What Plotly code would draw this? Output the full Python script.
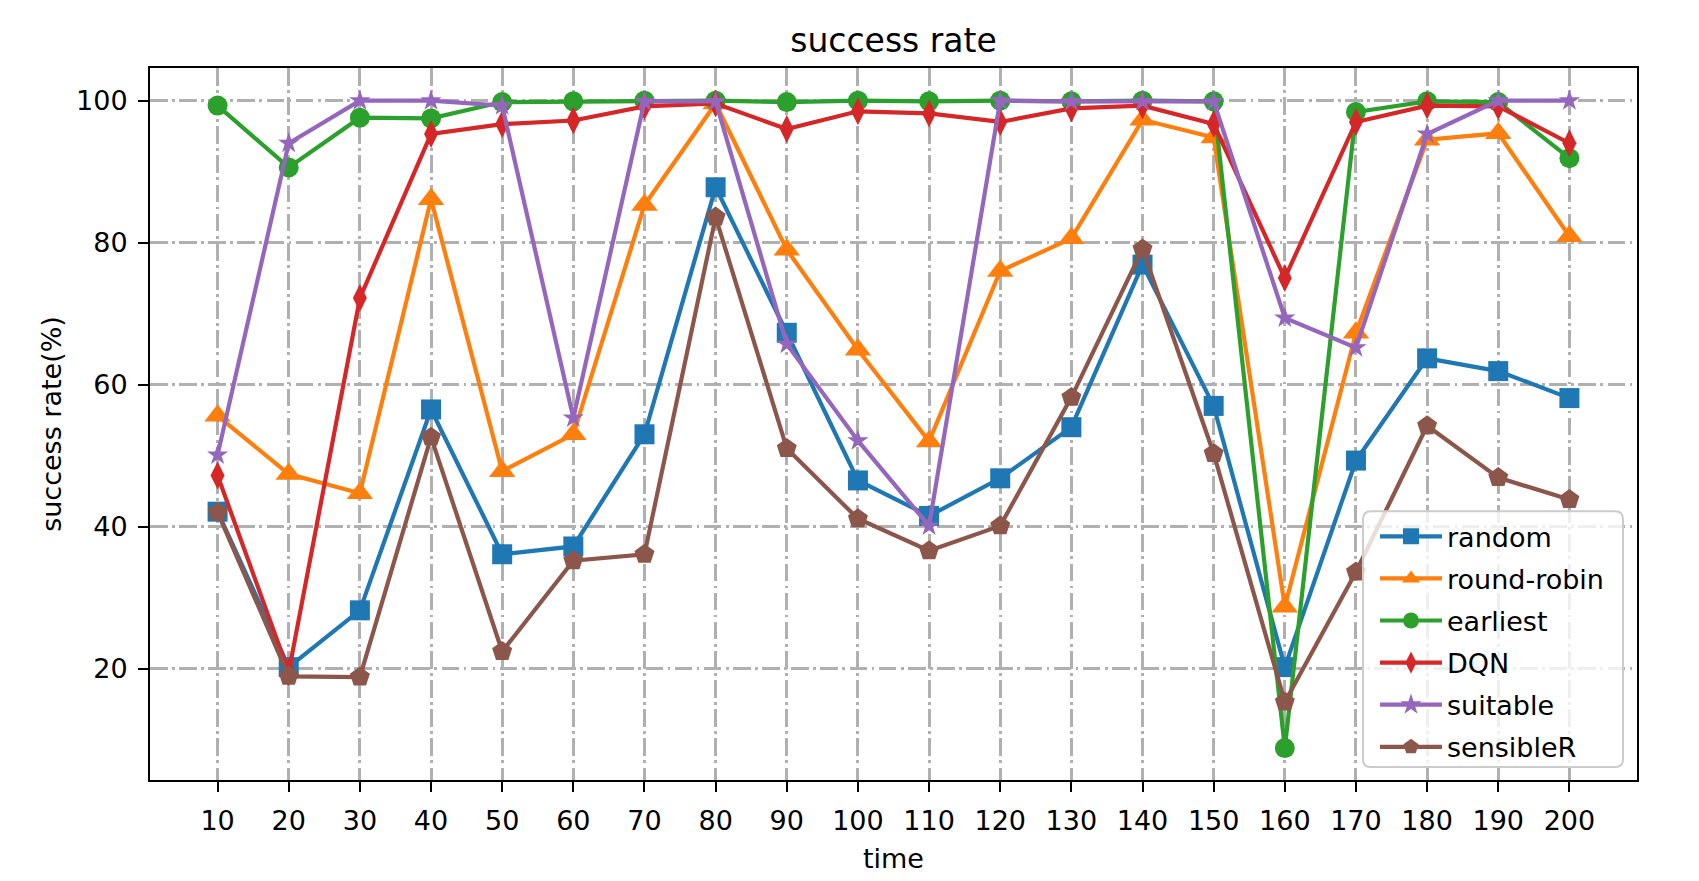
import plotly.graph_objects as go

time = [10, 20, 30, 40, 50, 60, 70, 80, 90, 100, 110, 120, 130, 140, 150, 160, 170, 180, 190, 200]
tick_labels = [str(t) for t in time]

random_vals = [42.1, 20.2, 28.2, 56.5, 36.1, 37.2, 53.0, 87.8, 67.3, 46.5, 41.5, 46.8, 54.0, 76.9, 57.0, 20.2, 49.3, 63.7, 61.9, 58.1]
round_robin = [55.6, 47.4, 44.7, 86.1, 47.8, 53.0, 85.3, 99.6, 79.0, 64.9, 52.0, 76.0, 80.6, 97.3, 94.8, 28.7, 67.3, 94.5, 95.4, 80.9]
earliest = [99.3, 90.6, 97.6, 97.5, 99.8, 99.9, 100.0, 100.0, 99.8, 100.0, 99.9, 100.0, 99.9, 100.0, 99.9, 8.8, 98.4, 99.9, 99.8, 91.9]
dqn = [47.2, 19.5, 72.2, 95.3, 96.7, 97.2, 99.2, 99.6, 96.0, 98.5, 98.2, 97.0, 98.9, 99.3, 96.7, 75.0, 97.0, 99.3, 99.2, 94.0]
suitable = [50.1, 94.0, 100.0, 100.0, 99.3, 55.3, 99.9, 99.9, 65.7, 52.1, 40.1, 100.0, 99.9, 99.9, 99.9, 69.4, 65.2, 95.3, 100.0, 100.0]
sensibleR = [42.0, 18.9, 18.8, 52.6, 22.4, 35.2, 36.1, 83.6, 51.0, 41.1, 36.6, 40.1, 58.2, 79.1, 50.3, 15.3, 33.6, 54.2, 46.9, 43.8]

series = [
    ("random", random_vals, "#1f77b4", "square", 20),
    ("round-robin", round_robin, "#ff7f0e", "triangle-up", 23),
    ("earliest", earliest, "#2ca02c", "circle", 20),
    ("DQN", dqn, "#d62728", "diamond-tall", 20),
    ("suitable", suitable, "#9467bd", "star", 16),
    ("sensibleR", sensibleR, "#8c564b", "pentagon", 21),
]

FONT = "DejaVu Sans"
W, H = 1699, 881
L, R, T, B = 150, 62, 68, 95

fig = go.Figure()
for name, vals, color, sym, size in series:
    fig.add_trace(go.Scatter(
        x=time, y=vals, name=name, mode="lines+markers", legendgroup=name,
        line=dict(color=color, width=4.2),
        marker=dict(symbol=sym, size=size, color=color, line=dict(width=0)),
    ))

grid_dash = "17.6px,4.4px,2.75px,4.4px"
axis_common = dict(
    showline=True, linecolor="black", linewidth=2, mirror=True,
    ticks="outside", ticklen=10, tickwidth=2, tickcolor="black",
    showgrid=True, gridcolor="#b0b0b0", gridwidth=2.75, griddash=grid_dash,
    zeroline=False,
    tickfont=dict(family=FONT, size=27, color="black"),
)

fig.update_xaxes(
    range=[0.5, 209.5], tickvals=time, ticktext=tick_labels,
    title=dict(text="time", font=dict(family=FONT, size=27, color="black"), standoff=14),
    ticklabelstandoff=6,
    **axis_common,
)
fig.update_yaxes(
    range=[4.3, 104.6], tickvals=[20, 40, 60, 80, 100],
    title=dict(text="success rate(%)", font=dict(family=FONT, size=27, color="black"), standoff=7),
    ticklabelstandoff=5,
    **axis_common,
)

# legend frame (rounded, semi-transparent like matplotlib)
x0, x1 = 1363, 1623
y0, y1 = 515, 773
r = 8
def px(x):
    return (x - L) / (W - L - R)
def py(y):
    return 1 - (y - T) / (H - T - B)
path = (f"M {px(x0 + r)},{py(y0)} L {px(x1 - r)},{py(y0)} Q {px(x1)},{py(y0)} {px(x1)},{py(y0 + r)} "
        f"L {px(x1)},{py(y1 - r)} Q {px(x1)},{py(y1)} {px(x1 - r)},{py(y1)} "
        f"L {px(x0 + r)},{py(y1)} Q {px(x0)},{py(y1)} {px(x0)},{py(y1 - r)} "
        f"L {px(x0)},{py(y0 + r)} Q {px(x0)},{py(y0)} {px(x0 + r)},{py(y0)} Z")
fig.add_shape(type="path", path=path, xref="paper", yref="paper", layer="above",
              fillcolor="rgba(255,255,255,0.8)", line=dict(color="#cccccc", width=2))

fig.update_layout(
    width=W, height=H,
    margin=dict(l=L, r=R, t=T, b=B),
    paper_bgcolor="white", plot_bgcolor="white",
    font=dict(family=FONT, size=27, color="black"),
    title=dict(text="success rate", x=px((L + W - R) / 2), xref="paper", xanchor="center",
               y=1 - 40 / H, yanchor="middle", font=dict(family=FONT, size=33, color="black")),
    legend=dict(
        x=px(1375), y=py(516), xanchor="left", yanchor="top",
        bgcolor="rgba(0,0,0,0)", borderwidth=0,
        font=dict(family=FONT, size=27, color="black"),
        itemwidth=62, tracegroupgap=4,
    ),
    showlegend=True,
)

fig.write_html("out.html", config={"displayModeBar": False},
               post_script="document.body.style.margin='0px';")
